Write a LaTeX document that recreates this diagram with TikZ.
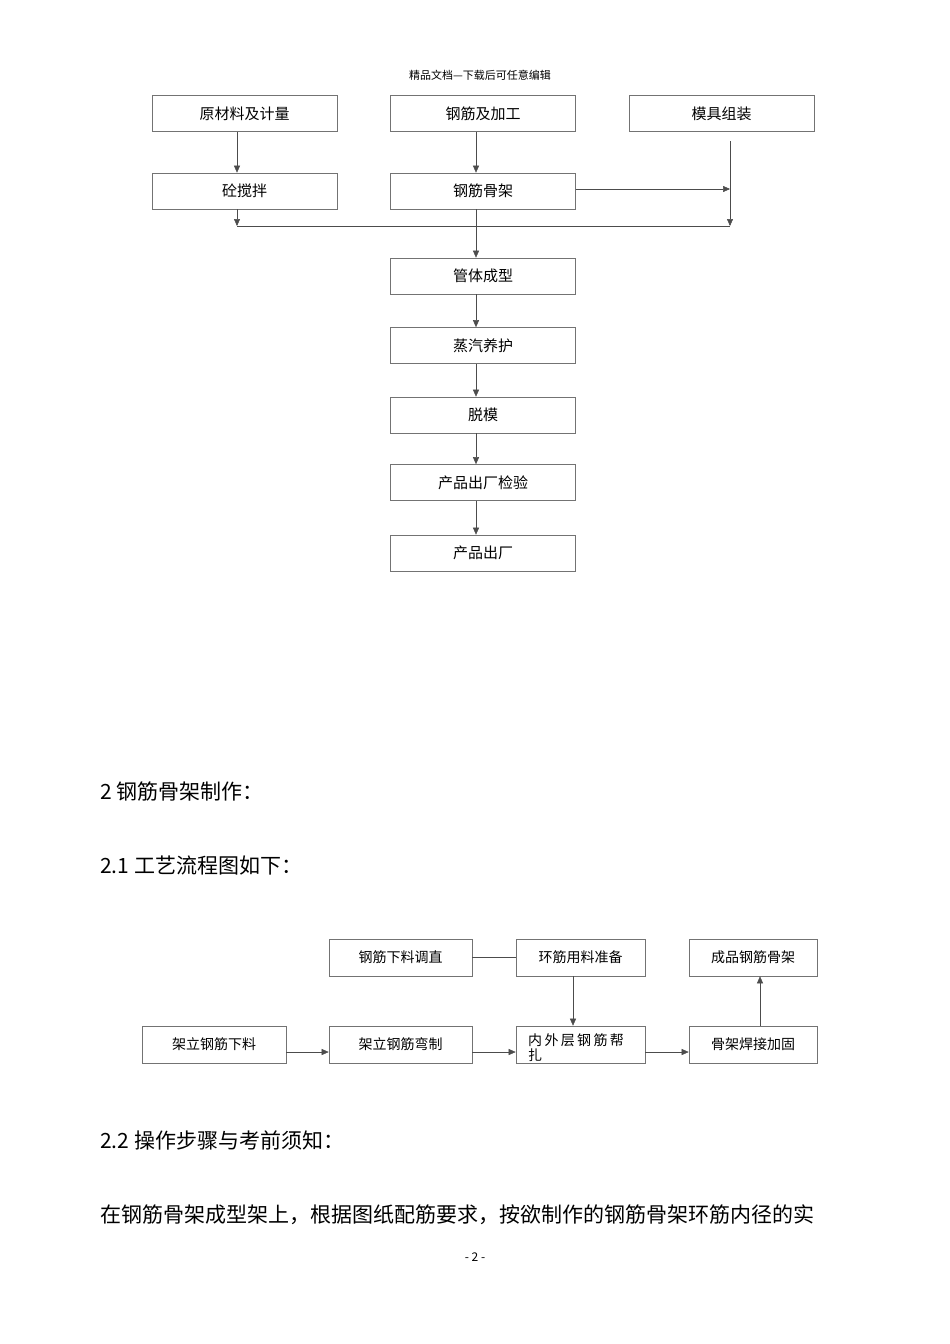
\documentclass[tikz,border=0pt]{standalone}
\usepackage{fontspec}
\setmainfont{Noto Sans CJK SC}
\usetikzlibrary{arrows.meta}
\begin{document}
\begin{tikzpicture}[x=1pt,y=-1pt,
  boxa/.style={draw=black!55,line width=0.6pt,minimum width=185pt,minimum height=36pt,inner sep=0pt,font=\fontsize{15}{18}\selectfont},
  boxb/.style={draw=black!55,line width=0.6pt,minimum height=37pt,inner sep=0pt,font=\fontsize{14}{17}\selectfont},
  arr/.style={draw=black!70,line width=0.5pt,-{Triangle[length=7pt,width=6pt]}},
  ln/.style={draw=black!70,line width=0.5pt},
  body/.style={anchor=west,font=\fontsize{21}{24}\selectfont,inner sep=0pt}]
\useasboundingbox[fill=white] (0,0) rectangle (950,1344);
\node[font=\fontsize{11}{13}\selectfont] (hdr) at (480,75) {精品文档---下载后可任意编辑};
\node[boxa] (a1) at (244.5,113.5) {原材料及计量};
\node[boxa] (a2) at (483,113.5) {钢筋及加工};
\node[boxa] (a3) at (721.5,113.5) {模具组装};
\node[boxa] (b1) at (244.5,191) {砼搅拌};
\node[boxa] (b2) at (483,191) {钢筋骨架};
\node[boxa] (c1) at (483,276) {管体成型};
\node[boxa] (c2) at (483,345.5) {蒸汽养护};
\node[boxa] (c3) at (483,415) {脱模};
\node[boxa] (c4) at (483,482.5) {产品出厂检验};
\node[boxa] (c5) at (483,553) {产品出厂};
\coordinate (j1) at (237,226);
\coordinate (j2) at (476,226);
\coordinate (j3) at (730,226);
\coordinate (m1) at (730,141);
\coordinate (m2) at (730,189);
\draw[arr] (a1.south -| j1) -- (b1.north -| j1);
\draw[arr] (a2.south -| j2) -- (b2.north -| j2);
\draw[arr] (b2.east |- m2) -- (m2);
\draw[arr] (m1) -- (j3);
\draw[ln] (j1) -- (j3);
\draw[arr] (b1.south -| j1) -- (j1);
\draw[ln] (b2.south -| j2) -- (j2);
\draw[arr] (j2) -- (c1.north -| j2);
\draw[arr] (c1.south -| j2) -- (c2.north -| j2);
\draw[arr] (c2.south -| j2) -- (c3.north -| j2);
\draw[arr] (c3.south -| j2) -- (c4.north -| j2);
\draw[arr] (c4.south -| j2) -- (c5.north -| j2);
\node[body] (t1) at (100,792) {2 钢筋骨架制作：};
\node[body] (t2) at (100,866) {2.1 工艺流程图如下：};
\node[body] (t3) at (100,1140) {2.2 操作步骤与考前须知：};
\node[body] (t4) at (100,1215) {在钢筋骨架成型架上，根据图纸配筋要求，按欲制作的钢筋骨架环筋内径的实};
\node[font=\fontsize{12}{14}\selectfont] (ft) at (475,1257) {- 2 -};
\node[boxb,minimum width=143pt] (d1) at (400.5,957.5) {钢筋下料调直};
\node[boxb,minimum width=129pt] (d2) at (580.5,957.5) {环筋用料准备};
\node[boxb,minimum width=128pt] (d3) at (753,957.5) {成品钢筋骨架};
\node[boxb,minimum width=144pt] (e1) at (214,1044.5) {架立钢筋下料};
\node[boxb,minimum width=143pt] (e2) at (400.5,1044.5) {架立钢筋弯制};
\node[boxb,minimum width=129pt] (e3) at (580.5,1044.5) {};
\node[anchor=north west,inner sep=0pt,align=left,font=\fontsize{14}{15}\selectfont] (e3t) at (528,1033) {内\,外\,层\,钢\,筋\,帮\\扎};
\node[boxb,minimum width=128pt] (e4) at (753,1044.5) {骨架焊接加固};
\draw[ln] (d1.east) -- (d2.west);
\draw[arr] (d2.south -| 573,0) -- (e3.north -| 573,0);
\draw[arr] (e1.east |- 0,1052) -- (e2.west |- 0,1052);
\draw[arr] (e2.east |- 0,1052) -- (e3.west |- 0,1052);
\draw[arr] (e3.east |- 0,1052) -- (e4.west |- 0,1052);
\draw[arr] (e4.north -| 760,0) -- (d3.south -| 760,0);
\end{tikzpicture}
\end{document}
